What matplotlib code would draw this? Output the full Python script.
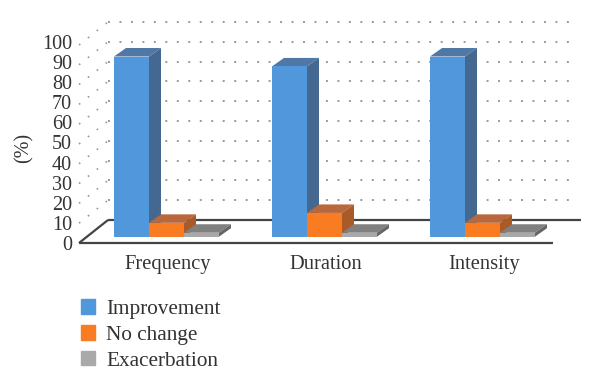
import matplotlib
matplotlib.use("Agg")
import matplotlib.pyplot as plt
from matplotlib.patches import Patch

plt.rcParams["font.family"] = ["Liberation Serif", "DejaVu Serif"]

categories = ["Frequency", "Duration", "Intensity"]
improvement = [91, 86, 91]
no_change = [7, 12, 7]
exacerbation = [2, 2, 2]
y_ticks = [0, 10, 20, 30, 40, 50, 60, 70, 80, 90, 100]

# 색상: 앞면, 윗면, 옆면
blue = ("#5197DB", "#4F78A6", "#44688F")
orange = ("#F97C23", "#B8683C", "#A85A28")
gray = ("#A9A9A9", "#808080", "#666666")
text_color = "#333333"

# 픽셀 기준 배치 값
px_x = 158.0  # 카테고리 간격
px_y = 1.98  # 1% 당 픽셀
bar_w = 35 / px_x
dx = 12 / px_x  # 막대 깊이
dy = 8.5 / px_y
wall_dx = 29 / px_x  # 바닥 깊이
wall_dy = 23 / px_y
floor_y = -6.3 / px_y  # 앞쪽 바닥선 높이
left_x = (79 - 166.5) / px_x

fig = plt.figure(figsize=(6, 3.88), dpi=100)
ax = fig.add_axes([0, 0, 1, 1])
ax.set_xlim(-166.5 / px_x, (600 - 166.5) / px_x)
ax.set_ylim(-(388 - 236.7) / px_y, 236.7 / px_y)
ax.axis("off")

# 뒷벽과 옆벽의 점선 격자
back_y0 = floor_y + wall_dy
right_x = (577 - 166.5) / px_x
for v in y_ticks[1:]:
    ax.plot([left_x + wall_dx, right_x], [back_y0 + v, back_y0 + v],
            color="#999999", lw=1.4, ls=(0, (1, 4.9)), zorder=1)
    ax.plot([left_x, left_x + wall_dx], [floor_y + v, back_y0 + v],
            color="#999999", lw=1.2, ls=(0, (1, 5.8)), zorder=1)

# 바닥 선
line_kw = dict(color="#444444", lw=1.6, zorder=2, solid_capstyle="butt")
ax.plot([left_x, (553 - 166.5) / px_x], [floor_y, floor_y], **line_kw)
ax.plot([left_x + wall_dx, (581 - 166.5) / px_x], [back_y0, back_y0], **line_kw)
ax.plot([left_x, left_x + wall_dx], [floor_y, back_y0], **line_kw)


def bar3d(x, h, colors, z):
    # 앞면은 bar, 윗면과 옆면은 평행사변형으로 그림
    ax.fill([x, x + bar_w, x + bar_w + dx, x + dx], [h, h, h + dy, h + dy],
            color=colors[1], lw=0, zorder=z)
    ax.fill([x + bar_w, x + bar_w + dx, x + bar_w + dx, x + bar_w],
            [0, dy, h + dy, h], color=colors[2], lw=0, zorder=z)
    ax.bar(x, h, width=bar_w, align="edge", color=colors[0], lw=0, zorder=z + 1)


for i in range(len(categories)):
    left = i - 1.5 * bar_w
    bar3d(left, improvement[i], blue, 3)
    bar3d(left + bar_w, no_change[i], orange, 5)
    bar3d(left + 2 * bar_w, exacerbation[i], gray, 5)
    ax.text(i + 0.01, -14, categories[i], ha="center", va="center",
            fontsize=14.8, color=text_color)

# 눈금 글자는 격자보다 간격이 약간 넓음
for v in y_ticks:
    ax.text(left_x - 7 / px_x, floor_y - 1.5 + v * 1.02, str(v), ha="right", va="center",
            fontsize=14.5, color=text_color)

ax.text(-0.905, 45, "(%)", rotation=90, ha="center", va="center",
        fontsize=14.5, color=text_color)

handles = [Patch(color=blue[0]), Patch(color=orange[0]), Patch(color=gray[0])]
ax.legend(handles, ["Improvement", "No change", "Exacerbation"],
          loc="lower left", bbox_to_anchor=(81 / 600, 17.5 / 388), frameon=False,
          prop={"size": 15.3}, labelcolor=text_color, borderpad=0, borderaxespad=0,
          handlelength=0.68, handleheight=0.68, handletextpad=0.5, labelspacing=0.28)

fig.savefig("out.png", dpi=100)
